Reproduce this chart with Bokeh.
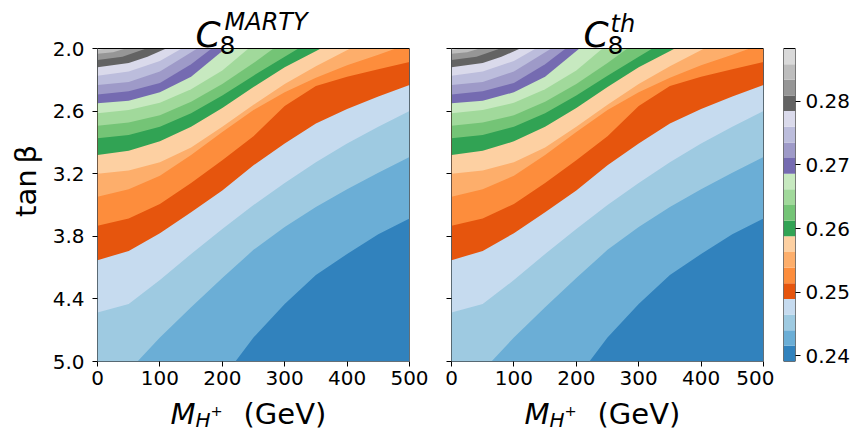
from bokeh.plotting import figure
from bokeh.models import Range1d, FixedTicker, PrintfTickFormatter, CustomJSTickFormatter, Spacer, Title
from bokeh.core.properties import value
from bokeh.layouts import row, column
from bokeh.embed import file_html
from bokeh.resources import INLINE

# ---- data ----
mass_ticks = [0, 100, 200, 300, 400, 500]
tanb_ticks = [2.0, 2.6, 3.2, 3.8, 4.4, 5.0]
cbar_ticks = [0.24, 0.25, 0.26, 0.27, 0.28]

# contour level edges (21 edges -> 20 filled bins)
level_edges = [0.23910, 0.24156, 0.24402, 0.24648, 0.24894, 0.25140, 0.25386,
               0.25632, 0.25878, 0.26124, 0.26370, 0.26616, 0.26862, 0.27108,
               0.27354, 0.27600, 0.27846, 0.28092, 0.28338, 0.28584, 0.28830]

bin_colors = ['#3182bd', '#6baed6', '#9ecae1', '#c6dbef', '#e6550d', '#fd8d3c',
              '#fdae6b', '#fdd0a2', '#31a354', '#74c476', '#a1d99b', '#c7e9c0',
              '#756bb1', '#9e9ac8', '#bcbddc', '#dadaeb', '#636363', '#969696',
              '#bdbdbd', '#d9d9d9']

# contour lines (level edge k = 1..19): M_H+ (GeV) and tan(beta) along each line
contour_mass = [
    [221, 250, 300, 350, 400, 450, 500],
    [64, 100, 150, 200, 250, 300, 350, 400, 450, 500],
    [0, 50, 100, 150, 200, 250, 300, 350, 400, 450, 500],
    [0, 50, 100, 150, 200, 250, 300, 350, 400, 450, 500],
    [0, 50, 100, 150, 200, 250, 300, 350, 400, 450, 500],
    [0, 50, 100, 150, 200, 250, 300, 350, 400, 450, 478],
    [0, 50, 100, 150, 200, 250, 300, 350, 405],
    [0, 50, 100, 150, 200, 250, 300, 358],
    [0, 50, 100, 150, 200, 250, 300, 322],
    [0, 50, 100, 150, 200, 250, 282],
    [0, 50, 100, 150, 200, 242],
    [0, 50, 100, 150, 205],
    [0, 50, 100, 150, 183],
    [0, 50, 100, 160],
    [0, 50, 100, 135],
    [0, 50, 80, 110],
    [0, 40, 78],
    [0, 25, 45],
    [0, 15],
]
contour_tanb = [
    [5.0, 4.77, 4.45, 4.17, 3.97, 3.78, 3.63],
    [5.0, 4.77, 4.48, 4.20, 3.93, 3.71, 3.52, 3.35, 3.19, 3.04],
    [4.53, 4.45, 4.22, 3.97, 3.73, 3.50, 3.29, 3.09, 2.91, 2.75, 2.60],
    [4.03, 3.94, 3.77, 3.57, 3.36, 3.12, 2.91, 2.72, 2.58, 2.46, 2.35],
    [3.70, 3.63, 3.49, 3.29, 3.07, 2.84, 2.55, 2.36, 2.27, 2.20, 2.13],
    [3.42, 3.35, 3.22, 3.02, 2.80, 2.59, 2.42, 2.28, 2.16, 2.06, 2.0],
    [3.20, 3.17, 3.09, 2.95, 2.75, 2.54, 2.34, 2.17, 2.0],
    [3.02, 2.98, 2.89, 2.75, 2.57, 2.37, 2.18, 2.0],
    [2.86, 2.83, 2.75, 2.62, 2.45, 2.26, 2.08, 2.0],
    [2.74, 2.71, 2.64, 2.51, 2.34, 2.14, 2.0],
    [2.62, 2.59, 2.52, 2.39, 2.21, 2.0],
    [2.525, 2.50, 2.42, 2.27, 2.0],
    [2.44, 2.41, 2.33, 2.15, 2.0],
    [2.35, 2.32, 2.22, 2.0],
    [2.26, 2.22, 2.12, 2.0],
    [2.18, 2.14, 2.08, 2.0],
    [2.11, 2.08, 2.0],
    [2.05, 2.035, 2.0],
    [2.015, 2.0],
]

X_MIN, X_MAX = mass_ticks[0], mass_ticks[-1]
Y_TOP, Y_BOT = tanb_ticks[0], tanb_ticks[-1]
X_MID = (X_MIN + X_MAX) / 2
FONT = "DejaVu Sans"

TOP_PAD = 48          # px above the data area reserved for the title
DATA_H = 313          # px height of the data area
BOTTOM_B = 34         # px for the x tick labels
PANEL_H = TOP_PAD + DATA_H + BOTTOM_B
LABEL_H = 432 - PANEL_H
FRAME_W = 312
UNIT = (Y_BOT - Y_TOP) / DATA_H       # tan(beta) per pixel
DESCENT = 0.236   # svg text sits this fraction of the font size low; lift it back


def region_above(xs, ys):
    """Polygon of the part of the plane on the high-value (top-left) side of a contour."""
    px, py = list(xs), list(ys)
    if px[-1] >= X_MAX:
        px.append(X_MAX); py.append(Y_TOP)
    px.append(X_MIN); py.append(Y_TOP)
    if px[0] > X_MIN:
        px.append(X_MIN); py.append(Y_BOT)
    return px, py


def glyph_text(p, text, dx, y, size, italic=False):
    p.text(x=[X_MID], y=[y], text=[text], x_offset=dx,
           text_font=value(FONT), text_font_size=value(f"{size}px"),
           text_font_style=value("italic" if italic else "normal"),
           text_color="black", text_align="left", text_baseline="alphabetic")


def title_text(p, text, dx, d, size, italic=False):
    """d = baseline position in px below the top of the data area (negative = above)."""
    glyph_text(p, text, dx, Y_TOP + (d - DESCENT * size) * UNIT, size, italic)


def strip_text(p, text, dx, base, size, italic=False):
    """base = baseline height in px above the strip bottom."""
    glyph_text(p, text, dx, base + DESCENT * size, size, italic)


def text_strip(x_range, width, left, right, height):
    t = figure(width=width, height=height, x_range=x_range, y_range=Range1d(0, height),
               output_backend="svg", toolbar_location=None, x_axis_type=None,
               y_axis_type=None, min_border_left=left, min_border_right=right,
               min_border_top=0, min_border_bottom=0)
    t.grid.visible = False
    t.outline_line_color = None
    return t


def panel(width, left, right, show_ylabels):
    p = figure(width=width, height=PANEL_H, x_range=Range1d(X_MIN, X_MAX),
               y_range=Range1d(Y_BOT, Y_TOP - TOP_PAD * UNIT), output_backend="svg",
               toolbar_location=None, min_border_left=left, min_border_right=right,
               min_border_top=0, min_border_bottom=BOTTOM_B)
    p.grid.visible = False
    p.outline_line_color = None
    p.background_fill_color = "white"
    p.border_fill_color = "white"

    p.quad(left=[X_MIN], right=[X_MAX], top=[Y_TOP], bottom=[Y_BOT],
           fill_color=bin_colors[0], line_color=None)
    pxs, pys = [], []
    for xs, ys in zip(contour_mass, contour_tanb):
        a, b = region_above(xs, ys)
        pxs.append(a); pys.append(b)
    p.patches(pxs, pys, fill_color=bin_colors[1:], line_color=None)
    # frame of the data area
    p.quad(left=[X_MIN], right=[X_MAX], top=[Y_TOP], bottom=[Y_BOT],
           fill_color=None, line_color="black", line_width=1)

    for ax in (p.xaxis, p.yaxis):
        ax.axis_line_color = None
        ax.major_tick_in = 0
        ax.major_tick_out = 5
        ax.major_tick_line_color = "black"
        ax.minor_tick_line_color = None
        ax.major_label_text_font = FONT
        ax.major_label_text_font_size = "20px"
        ax.major_label_text_color = "black"
    p.xaxis.ticker = FixedTicker(ticks=mass_ticks)
    p.yaxis.ticker = FixedTicker(ticks=tanb_ticks)
    p.xaxis.major_label_standoff = 4
    if show_ylabels:
        p.yaxis.formatter = PrintfTickFormatter(format="%.1f")
        p.yaxis.major_label_standoff = 8
        p.add_layout(Title(text="tan\u2009β", align="center", offset=-TOP_PAD // 2,
                           standoff=13, text_font=FONT, text_font_size="29px",
                           text_font_style="normal", text_color="black"), "left")
    else:
        p.yaxis.formatter = CustomJSTickFormatter(code="return ''")
        p.yaxis.major_label_standoff = 0
    return p


L1, R1 = 97, 21
L2, R2 = 21, 11
W1 = L1 + FRAME_W + R1
W2 = L2 + FRAME_W + R2

p1 = panel(W1, L1, R1, True)
p2 = panel(W2, L2, R2, False)

# titles  C_8^{MARTY}  and  C_8^{th}
title_text(p1, "C", -58, -6, 36, True)
title_text(p1, "8", -34, 2, 25)
title_text(p1, "MARTY", -29, -21, 24, True)
title_text(p2, "C", -24, -6, 36, True)
title_text(p2, "8", 0, 2, 25)
title_text(p2, "th", 3, -19, 24, True)

# x axis labels  M_{H^+} (GeV)
xl = []
for pp, w, l, r in ((p1, W1, L1, R1), (p2, W2, L2, R2)):
    s = text_strip(pp.x_range, w, l, r, LABEL_H)
    strip_text(s, "M", -83, 12, 29, True)
    strip_text(s, "H", -58, 8, 20, True)
    strip_text(s, "+", -43, 18.5, 14.5)
    strip_text(s, "(GeV)", -10, 12, 29)
    xl.append(s)

# colour bar (frame reaches the top like the panels; data part drawn below the pad)
CB_W = 79
cb_unit = (level_edges[-1] - level_edges[0]) / DATA_H
cb = figure(width=CB_W, height=PANEL_H, x_range=Range1d(0, 1),
            y_range=Range1d(level_edges[0], level_edges[-1] + TOP_PAD * cb_unit),
            y_axis_location="right", output_backend="svg", toolbar_location=None,
            min_border_left=9, min_border_right=0, min_border_top=0,
            min_border_bottom=BOTTOM_B)
cb.grid.visible = False
cb.xaxis.visible = False
cb.outline_line_color = None
cb.quad(left=0, right=1, bottom=level_edges[:-1], top=level_edges[1:],
        fill_color=bin_colors, line_color=None)
cb.quad(left=[0], right=[1], bottom=[level_edges[0]], top=[level_edges[-1]],
        fill_color=None, line_color="black", line_width=1)
cb.yaxis.ticker = FixedTicker(ticks=cbar_ticks)
cb.yaxis.formatter = PrintfTickFormatter(format="%.2f")
cb.yaxis.axis_line_color = None
cb.yaxis.major_tick_in = 0
cb.yaxis.major_tick_out = 5
cb.yaxis.minor_tick_line_color = None
cb.yaxis.major_label_text_font = FONT
cb.yaxis.major_label_text_font_size = "20px"
cb.yaxis.major_label_text_color = "black"
cb.yaxis.major_label_standoff = 5

layout = column(
    row(p1, p2, cb),
    row(xl[0], xl[1], Spacer(width=CB_W, height=LABEL_H)),
)
open("out.html", "w").write(file_html(layout, INLINE))
